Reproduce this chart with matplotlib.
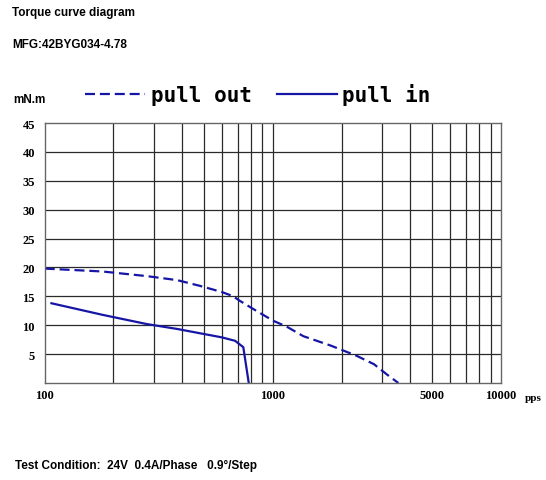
import matplotlib
matplotlib.use("Agg")
from matplotlib import pyplot as plt
from matplotlib.ticker import LogLocator, NullFormatter, FixedLocator
import numpy as np

# pull out (dashed) torque curve
pull_out_pps = [100, 179, 280, 381, 480, 597, 671, 711, 821, 1000, 1150, 1360, 1800, 2330, 2775, 3155, 3548]
pull_out_torque = [19.8, 19.3, 18.5, 17.8, 16.8, 15.75, 15.0, 14.3, 12.8, 10.8, 9.75, 8.1, 6.45, 4.7, 3.25, 1.5, 0.0]

# pull in (solid) torque curve
pull_in_pps = [107, 179, 280, 381, 480, 597, 683, 742, 784]
pull_in_torque = [13.8, 11.8, 10.2, 9.35, 8.6, 7.9, 7.3, 6.2, 0.0]

y_ticks = [5, 10, 15, 20, 25, 30, 35, 40, 45]
x_ticks = [100, 1000, 5000, 10000]
x_labels = ['100', '1000', '5000', '10000']

blue = '#1616a6'
serif = 'Liberation Serif'
sans = 'Liberation Sans'

fig = plt.figure(figsize=(5.46, 4.81), dpi=100)
ax = fig.add_axes([0.0819, 0.2017, 0.8357, 0.5405])

l_out, = ax.plot(pull_out_pps, pull_out_torque, color=blue, lw=1.6,
                 dashes=(4.5, 2.2), label='pull out')
l_in, = ax.plot(pull_in_pps, pull_in_torque, color=blue, lw=1.6, label='pull in')

ax.set_xscale('log')
ax.set_xlim(100, 10000)
ax.set_ylim(0, 45)

ax.xaxis.set_major_locator(FixedLocator(x_ticks))
ax.xaxis.set_minor_locator(LogLocator(base=10, subs=np.arange(2, 10)))
ax.xaxis.set_minor_formatter(NullFormatter())
ax.set_xticklabels(x_labels, fontfamily=serif, fontweight='bold', fontsize=9)
ax.set_yticks(y_ticks)
ax.set_yticklabels([str(v) for v in y_ticks], fontfamily=serif, fontweight='bold', fontsize=9)
ax.tick_params(axis='both', which='both', length=0)
ax.tick_params(axis='y', pad=7)
ax.tick_params(axis='x', pad=4.5)

# grid: every decade subdivision and every 5 mN.m
for v in [200, 300, 400, 500, 600, 700, 800, 900, 1000,
          2000, 3000, 4000, 5000, 6000, 7000, 8000, 9000]:
    ax.axvline(v, color='#2a2a2a', lw=0.9, zorder=1)
for v in y_ticks[:-1]:
    ax.axhline(v, color='#2a2a2a', lw=0.9, zorder=1)
for s in ax.spines.values():
    s.set_color('#666666')
    s.set_linewidth(1.0)

ax.text(1.07, -0.055, 'pps', transform=ax.transAxes, fontfamily=serif,
        fontweight='bold', fontsize=8, ha='center', va='center')

ax.legend(handles=[l_out, l_in], loc='center left', ncol=2, frameon=False,
          bbox_to_anchor=(0.1557, 0.8025), bbox_transform=fig.transFigure,
          borderpad=0, borderaxespad=0, handlelength=2.9, handletextpad=0.25,
          columnspacing=1.2,
          prop={'family': 'DejaVu Sans Mono', 'weight': 'bold', 'size': 15})

fig.text(12 / 546, 1 - 13 / 481, 'Torque curve diagram', fontfamily=sans,
         fontweight='bold', fontsize=8.5, va='center', ha='left')
fig.text(12 / 546, 1 - 45 / 481, 'MFG:42BYG034-4.78', fontfamily=sans,
         fontweight='bold', fontsize=8.5, va='center', ha='left')
fig.text(13 / 546, 1 - 100 / 481, 'mN.m', fontfamily=sans,
         fontweight='bold', fontsize=8.5, va='center', ha='left')
fig.text(15 / 546, 1 - 466 / 481, 'Test Condition:  24V  0.4A/Phase   0.9°/Step',
         fontfamily=sans, fontweight='bold', fontsize=8.5, va='center', ha='left')

fig.savefig('out.png', dpi=100)
